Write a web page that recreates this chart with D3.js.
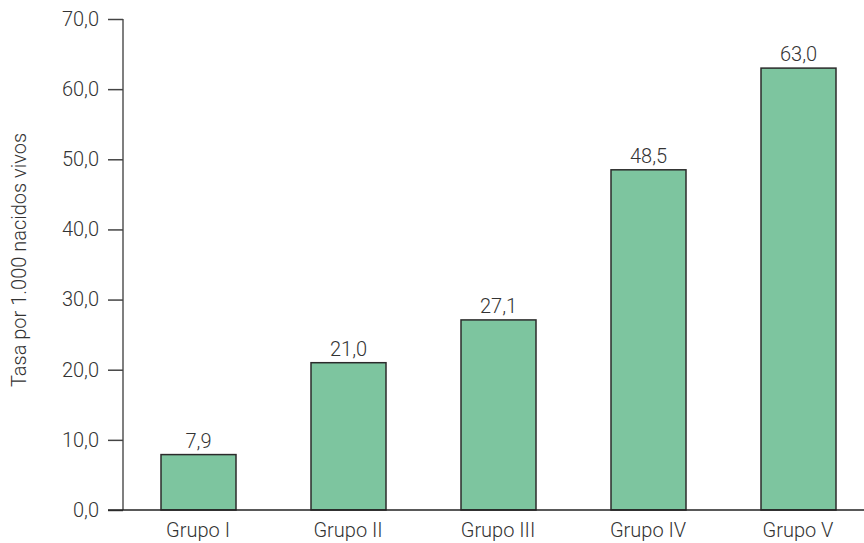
<!DOCTYPE html>
<html><head><meta charset="utf-8">
<script src="https://cdn.jsdelivr.net/npm/d3@7"></script>
<style>body{margin:0;background:#fff}svg{display:block}text{font-family:Roboto,"Open Sans",sans-serif;font-weight:300;fill:#333}</style>
</head><body>
<svg id="c" width="864" height="543"></svg>
<script>
const categories = ["Grupo I","Grupo II","Grupo III","Grupo IV","Grupo V"];
const values = [7.9, 21.0, 27.1, 48.5, 63.0];
const yTicks = [0,10,20,30,40,50,60,70];
const yLabel = "Tasa por 1.000 nacidos vivos";

const FS = 20;
const svg = d3.select("#c");
const fmt = v => d3.format(".1f")(v).replace(".", ",");
const x = d3.scaleBand().domain(categories).range([123, 873]).paddingInner(0.5).paddingOuter(0.25);
const y = d3.scaleLinear().domain([0,70]).range([510, 19]);

// y axis
const ya = svg.append("g").attr("transform","translate(123,0)")
  .call(d3.axisLeft(y).tickValues(yTicks).tickSize(15).tickPadding(9).tickFormat(fmt));
ya.select(".domain").attr("stroke","#555").attr("stroke-width",1.5).attr("d","M0,19V510");
ya.selectAll(".tick line").attr("stroke","#444").attr("stroke-width",1.5);
ya.selectAll(".tick text").attr("font-size",FS).attr("font-family","Roboto").attr("font-weight",300).attr("fill","#333");

// bars
svg.append("g").selectAll("rect").data(values).join("rect")
  .attr("x",(d,i)=>x(categories[i])+0.5)
  .attr("y",d=>y(d))
  .attr("width",x.bandwidth())
  .attr("height",d=>y(0)-y(d))
  .attr("fill","#7DC59F").attr("stroke","#2b2b2b").attr("stroke-width",1.5);

// value labels
svg.append("g").selectAll("text").data(values).join("text")
  .attr("x",(d,i)=>x(categories[i])+x.bandwidth()/2+0.5)
  .attr("y",d=>y(d)-7)
  .attr("text-anchor","middle").attr("font-size",FS)
  .text(d=>fmt(d));

// x axis
const xa = svg.append("g").attr("transform","translate(0,510)")
  .call(d3.axisBottom(x).tickSize(0).tickPadding(13));
xa.select(".domain").attr("stroke","#222").attr("stroke-width",1.5).attr("d","M108,0H864");
xa.selectAll(".tick text").attr("font-size",FS).attr("font-family","Roboto").attr("font-weight",300).attr("fill","#333");

// y label
svg.append("text").attr("transform","translate(26,260) rotate(-90)")
  .attr("text-anchor","middle").attr("font-size",FS).text(yLabel);
</script>
</body></html>
